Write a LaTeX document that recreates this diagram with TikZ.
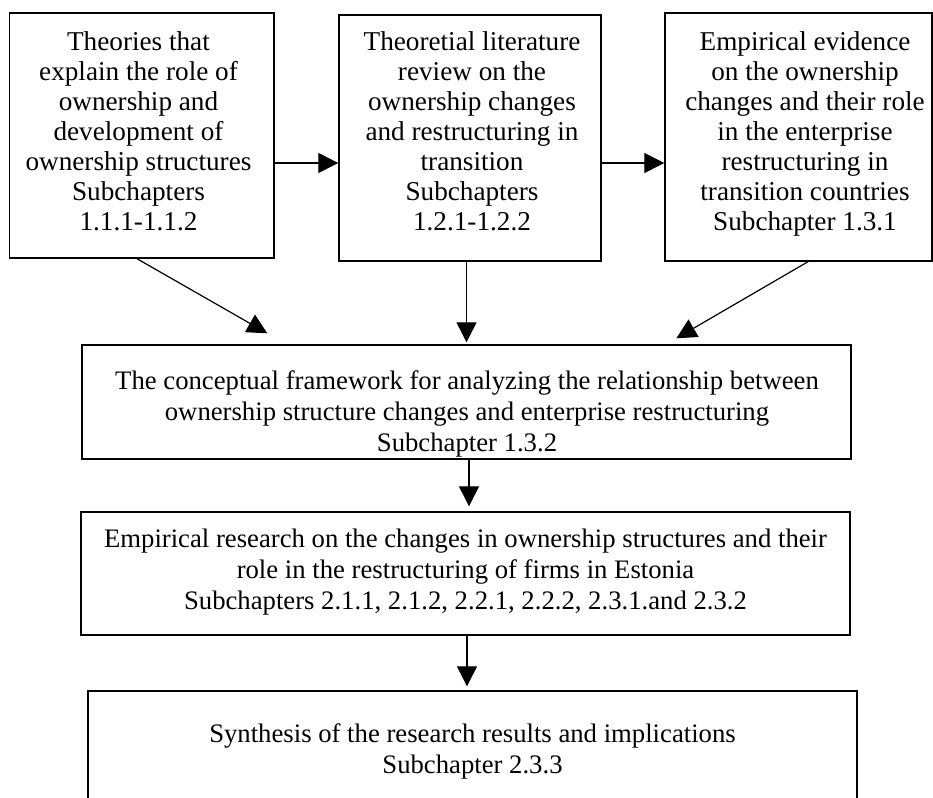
\documentclass[tikz,border=0pt]{standalone}
\usepackage{fontspec}
\setmainfont{Liberation Serif}
\usetikzlibrary{arrows.meta,calc}

\tikzset{
  box/.style={draw, line width=1.4pt, rectangle, inner sep=0pt},
  txt/.style={align=center, inner sep=0pt, anchor=base,
              font=\fontsize{27.2}{30}\selectfont},
  wide/.style={txt, font=\fontsize{26.7}{30.7}\selectfont},
  arr/.style={line width=1.2pt, -{Triangle[length=20pt,width=20pt]}}
}

\begin{document}
\begin{tikzpicture}[x=1pt, y=-1pt]
\useasboundingbox (0,0) rectangle (933,797);
\clip (0,0) rectangle (933,797);

% frames
\node[box, minimum width=264.5pt, minimum height=245pt] (b1) at (141.75,135.5) {};
\node[box, minimum width=262pt, minimum height=246pt] (b2) at (470,138) {};
\node[box, minimum width=267pt, minimum height=248pt] (b3) at (798.5,137) {};
\node[box, minimum width=769pt, minimum height=114pt] (b4) at (466.5,402) {};
\node[box, minimum width=769pt, minimum height=123pt] (b5) at (465.5,573.5) {};
\node[box, minimum width=769pt, minimum height=139pt] (b6) at (472.5,760.5) {};

% texts (placed by the baseline of their last line)
\node[txt] (t1) at (138.5,230) {Theories that\\explain the role of\\ownership and\\development of\\ownership structures\\Subchapters\\1.1.1-1.1.2};
\node[txt] (t2) at (472,230.5) {Theoretial literature\\review on the\\ownership changes\\and restructuring in\\transition\\Subchapters\\1.2.1-1.2.2};
\node[txt] (t3) at (805,230) {Empirical evidence\\on the ownership\\changes and their role\\in the enterprise\\restructuring in\\transition countries\\Subchapter 1.3.1};
\node[wide] (t4) at (467,451) {The conceptual framework for analyzing the relationship between\\ownership structure changes and enterprise restructuring\\Subchapter 1.3.2};
\node[wide] (t5) at (465.5,609) {Empirical research on the changes in ownership structures and their\\role in the restructuring of firms in Estonia\\Subchapters 2.1.1, 2.1.2, 2.2.1, 2.2.2, 2.3.1.and 2.3.2};
\node[wide] (t6) at (472.5,773) {Synthesis of the research results and implications\\Subchapter 2.3.3};

% connectors
\draw[arr] ($(b1.east)+(0,27.5)$) -- ($(b2.west)+(0,25)$);
\draw[arr] ($(b2.east)+(0,25)$) -- ($(b3.west)+(0,26)$);
\draw[arr] ($(b1.south)+(-4.75,0)$) -- ($(b4.north west)+(186,-11)$);
\draw[arr] ($(b2.south)+(-3.5,0)$) -- ($(b4.north)+(0,-2)$);
\draw[arr] ($(b3.south)+(9.5,0)$) -- ($(b4.north west)+(595,-6)$);
\draw[arr] ($(b4.south)+(2.5,0)$) -- ($(b5.north)+(3.5,-5)$);
\draw[arr] ($(b5.south)+(1.5,0)$) -- ($(b6.north)+(-5.5,-4)$);
\end{tikzpicture}
\end{document}
